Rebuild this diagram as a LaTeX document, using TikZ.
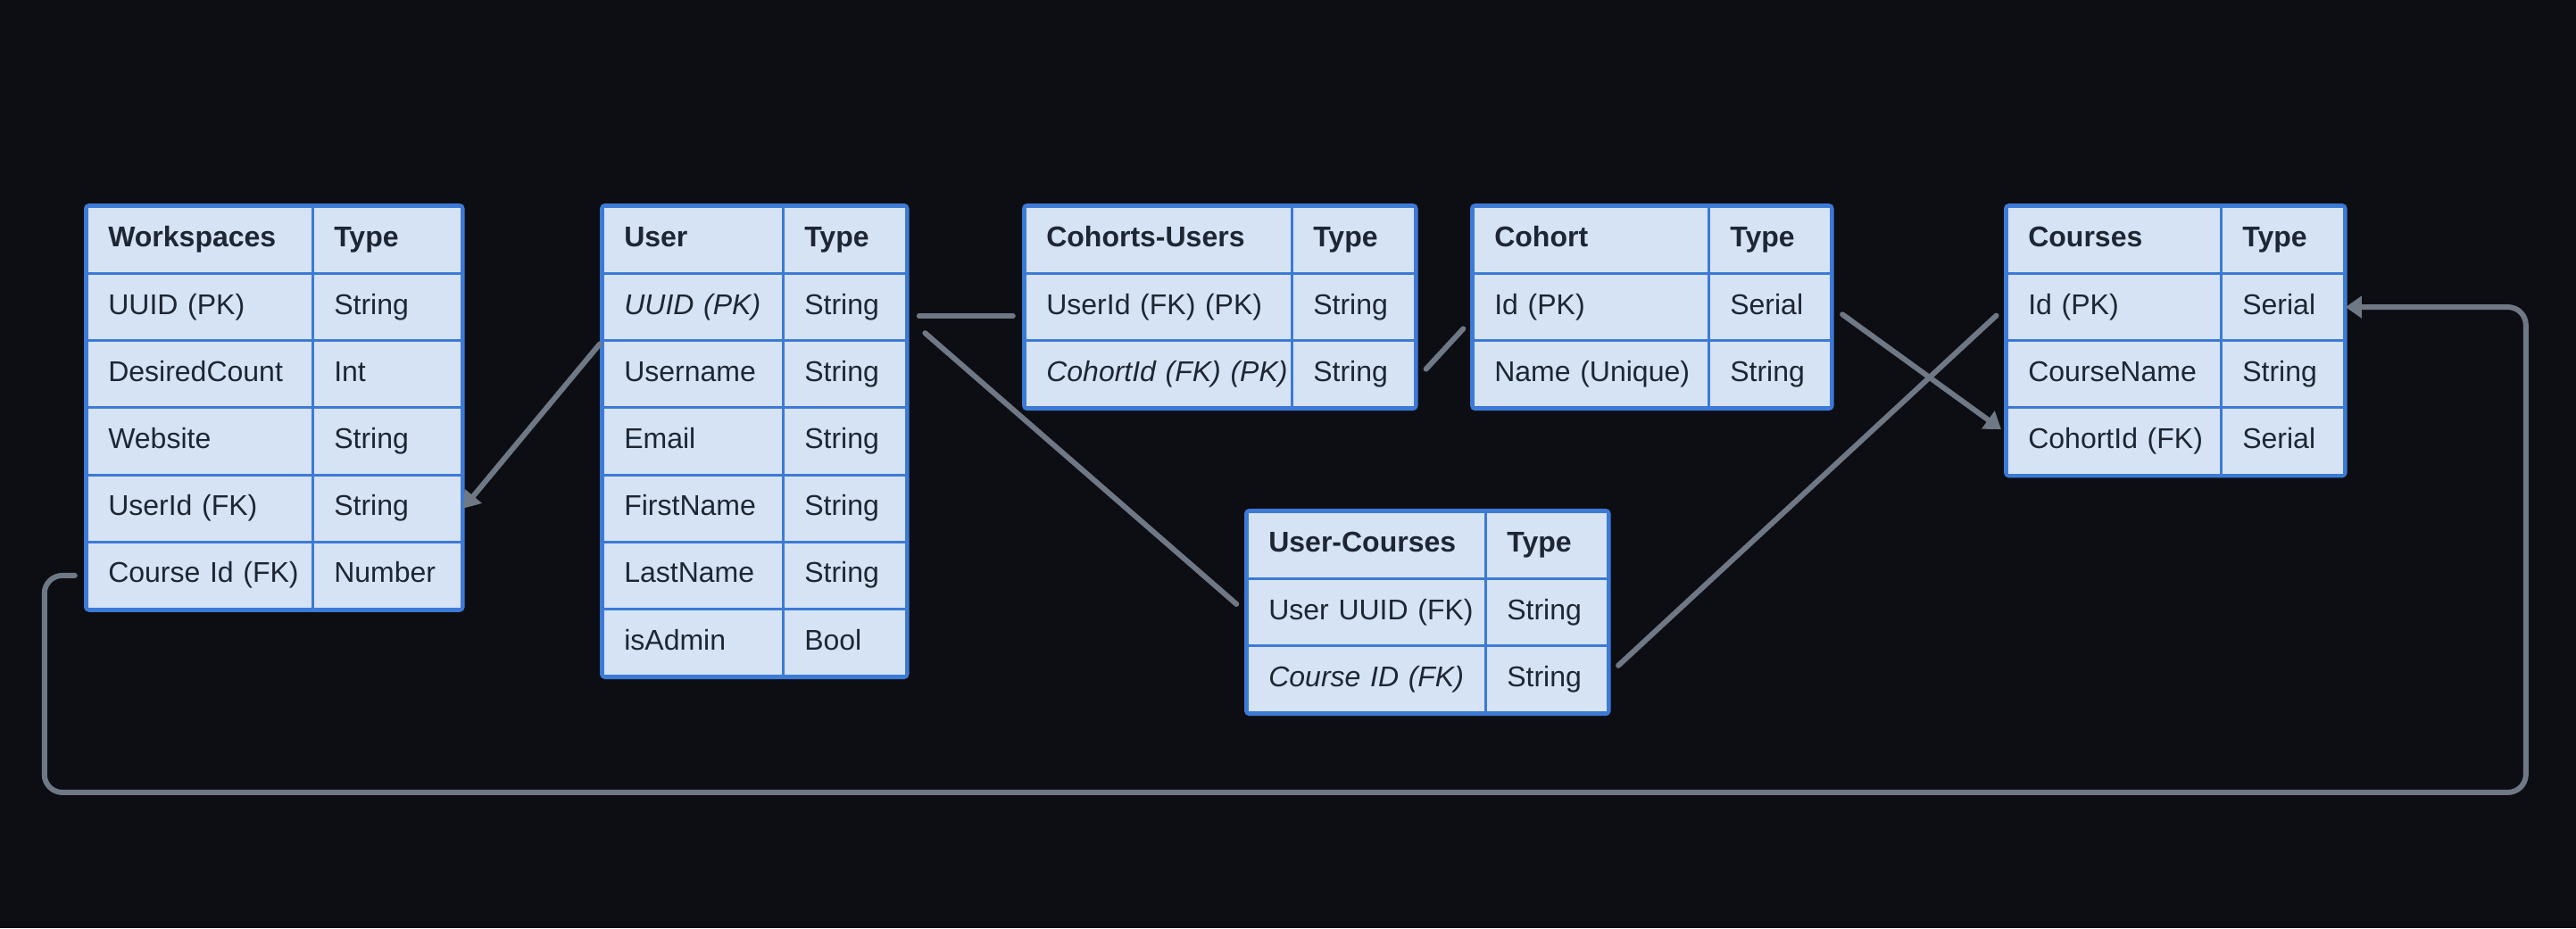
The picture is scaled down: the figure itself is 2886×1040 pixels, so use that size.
\documentclass[tikz,border=0pt]{standalone}
\usepackage{fontspec}
\setmainfont{Liberation Sans}
\usetikzlibrary{matrix,arrows.meta}
\definecolor{bgdark}{HTML}{0D0E14}
\definecolor{erdfill}{HTML}{D5E3F4}
\definecolor{erdblue}{HTML}{3D7AD6}
\definecolor{erdtext}{HTML}{1E2633}
\definecolor{linkgray}{HTML}{6F7885}
\begin{document}
\begin{tikzpicture}[x=0.5pt, y=-0.5pt,
  erdtable/.style = {matrix of nodes, anchor=north west,
    draw=erdblue, line width=1.8pt, rounded corners=2pt, inner sep=0pt,
    row sep=-1.5pt, column sep=-1.5pt,
    nodes = {draw=erdblue, line width=1.5pt, sharp corners, fill=erdfill,
      text=erdtext, font=\fontsize{16pt}{19pt}\selectfont,
      inner xsep=12pt, inner ysep=0pt, minimum height=37.6pt,
      text height=12pt, text depth=4pt, anchor=center,
      execute at begin node=\hbox\bgroup, execute at end node=\egroup},
    row 1/.style = {nodes={font=\fontsize{16pt}{19pt}\selectfont\bfseries}}},
  colw/.style 2 args = {column 1/.style={nodes={text width=#1}},
    column 2/.style={nodes={text width=#2}}},
  relline/.style = {draw=linkgray, line width=3pt, line cap=round},
  endtip/.style = {-{Triangle[length=9pt, width=12pt]}}]
  \fill[bgdark] (0,0) rectangle (2886,1040);
  \useasboundingbox (0,0) rectangle (2886,1040);

  \matrix (ws) [erdtable, colw={102.5pt}{59.5pt}] at (94,228) {
    Workspaces & Type \\
    UUID (PK) & String \\
    DesiredCount & Int \\
    Website & String \\
    UserId (FK) & String \\
    Course Id (FK) & Number \\
  };
  \matrix (user) [erdtable, colw={77pt}{45pt}] at (672,228) {
    User & Type \\
    \textit{UUID (PK)} & String \\
    Username & String \\
    Email & String \\
    FirstName & String \\
    LastName & String \\
    isAdmin & Bool \\
  };
  \matrix (cu) [erdtable, colw={125.5pt}{45pt}] at (1145,228) {
    Cohorts-Users & Type \\
    UserId (FK) (PK) & String \\
    \textit{CohortId (FK) (PK)} & String \\
  };
  \matrix (cohort) [erdtable, colw={108pt}{44.5pt}] at (1647,228) {
    Cohort & Type \\
    Id (PK) & Serial \\
    Name (Unique) & String \\
  };
  \matrix (courses) [erdtable, colw={96pt}{45pt}] at (2245,228) {
    Courses & Type \\
    Id (PK) & Serial \\
    CourseName & String \\
    CohortId (FK) & Serial \\
  };
  \matrix (uc) [erdtable, colw={109.5pt}{44.5pt}] at (1394,570) {
    User-Courses & Type \\
    User UUID (FK) & String \\
    \textit{Course ID (FK)} & String \\
  };

  \draw[relline, endtip, shorten <=1.5pt] (user-2-1.south west) -- (ws-5-2.east);
  \draw[relline, shorten <=6.5pt, shorten >=6pt] ([yshift=-5pt]user-2-2.east) -- ([yshift=-5pt]cu-2-1.west);
  \draw[relline, shorten <=13pt, shorten >=7pt] ([yshift=-6pt]user-2-2.east) -- (uc-2-1.west);
  \draw[relline, shorten <=8pt, shorten >=7pt] ([yshift=-3pt]cu-3-2.east) -- ([yshift=-7pt]cohort-2-1.west);
  \draw[relline, endtip, shorten <=7pt, shorten >=3pt] (cohort-2-2.east) -- ([yshift=5pt]courses-4-1.west);
  \draw[relline, shorten <=7pt, shorten >=7pt] ([yshift=3pt]uc-3-2.east) -- (courses-2-1.west);
  \draw[relline, endtip, rounded corners=10pt, shorten <=6pt] (ws-6-1.west) -- ++(-46,0) -- ++(0,243)
    -| ([xshift=101pt]courses-2-2.east) -- (courses-2-2.east);
\end{tikzpicture}
\end{document}
